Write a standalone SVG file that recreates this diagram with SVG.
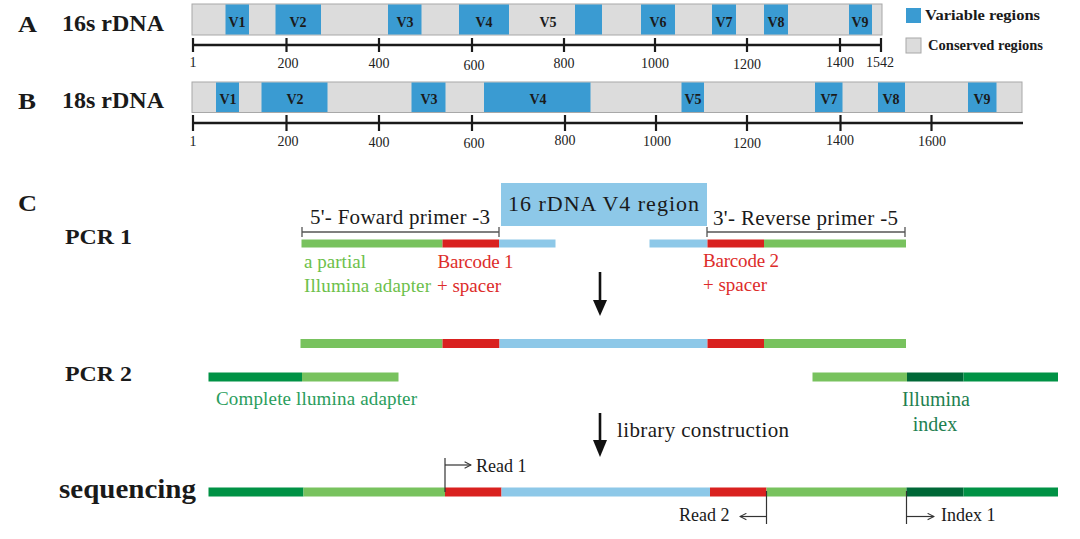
<svg xmlns="http://www.w3.org/2000/svg" width="1080" height="539" viewBox="0 0 1080 539">
<defs>
<style>
.lbl{font-family:"Liberation Serif","Times New Roman",serif;font-weight:bold;fill:#1a1a1a}
.v{font-family:"Liberation Serif",serif;font-weight:bold;font-size:14px;fill:#1a1a1a;text-anchor:middle}
.num{font-family:"Liberation Serif",serif;font-size:14px;fill:#222;text-anchor:middle}
.t{font-family:"Liberation Serif",serif;fill:#1a1a1a}
.cons{fill:#dcdcdc;stroke:#a8a8a8;stroke-width:1}
.var{fill:#3a9bd2}
.axis{stroke:#1a1a1a;stroke-width:2.5;fill:none}
.tick{stroke:#1a1a1a;stroke-width:2.2}
.lb{fill:#8dc8e8}
.lg{fill:#78c25e}
.rd{fill:#d9211f}
.dg{fill:#009245}
.ddg{fill:#006837}
.br{stroke:#555;stroke-width:1.3;fill:none}
.thin{stroke:#333;stroke-width:1.2;fill:none}
</style>
<marker id="open" viewBox="0 0 10 10" refX="9" refY="5" markerWidth="8" markerHeight="8" markerUnits="userSpaceOnUse" orient="auto">
<path d="M1,1 L9,5 L1,9" fill="none" stroke="#333" stroke-width="1.3"/>
</marker>
</defs>
<rect width="1080" height="539" fill="#ffffff"/>

<g id="labels">
<text class="lbl" x="18" y="31.5" font-size="24" textLength="19" lengthAdjust="spacingAndGlyphs">A</text>
<text class="lbl" x="62" y="31" font-size="23" textLength="102" lengthAdjust="spacingAndGlyphs">16s rDNA</text>
<text class="lbl" x="18" y="108.5" font-size="24" textLength="18" lengthAdjust="spacingAndGlyphs">B</text>
<text class="lbl" x="62" y="108" font-size="23" textLength="102" lengthAdjust="spacingAndGlyphs">18s rDNA</text>
<text class="lbl" x="18" y="211" font-size="24" textLength="19" lengthAdjust="spacingAndGlyphs">C</text>
<text class="lbl" x="65" y="244" font-size="21" textLength="67" lengthAdjust="spacingAndGlyphs">PCR 1</text>
<text class="lbl" x="65" y="381" font-size="21" textLength="67" lengthAdjust="spacingAndGlyphs">PCR 2</text>
<text class="lbl" x="59" y="498" font-size="27" textLength="137" lengthAdjust="spacingAndGlyphs">sequencing</text>
</g>

<g id="bar16s">
<rect class="cons" x="192" y="4" width="690" height="31"/>
<rect class="var" x="225.5" y="4.5" width="23.5" height="30"/>
<rect class="var" x="275.5" y="4.5" width="45.5" height="30"/>
<rect class="var" x="388" y="4.5" width="33.5" height="30"/>
<rect class="var" x="459" y="4.5" width="50" height="30"/>
<rect class="var" x="575" y="4.5" width="27" height="30"/>
<rect class="var" x="641" y="4.5" width="34" height="30"/>
<rect class="var" x="712" y="4.5" width="24" height="30"/>
<rect class="var" x="764" y="4.5" width="24" height="30"/>
<rect class="var" x="849" y="4.5" width="23" height="30"/>
<text class="v" x="237" y="27">V1</text>
<text class="v" x="298" y="27">V2</text>
<text class="v" x="405" y="27">V3</text>
<text class="v" x="484" y="27">V4</text>
<text class="v" x="548" y="27">V5</text>
<text class="v" x="658" y="27">V6</text>
<text class="v" x="724" y="27">V7</text>
<text class="v" x="776" y="27">V8</text>
<text class="v" x="860" y="27">V9</text>
<line class="axis" x1="192" y1="45" x2="882" y2="45"/>
<g class="tick">
<line x1="193" y1="38" x2="193" y2="52"/><line x1="286.5" y1="38" x2="286.5" y2="52"/>
<line x1="379" y1="38" x2="379" y2="52"/><line x1="472" y1="38" x2="472" y2="52"/>
<line x1="564" y1="38" x2="564" y2="52"/><line x1="655" y1="38" x2="655" y2="52"/>
<line x1="747" y1="38" x2="747" y2="52"/><line x1="840" y1="38" x2="840" y2="52"/>
<line x1="881" y1="38" x2="881" y2="52"/>
</g>
<text class="num" x="193" y="67">1</text>
<text class="num" x="288" y="68">200</text>
<text class="num" x="379" y="68">400</text>
<text class="num" x="474" y="70">600</text>
<text class="num" x="564" y="68">800</text>
<text class="num" x="655" y="68">1000</text>
<text class="num" x="747" y="69">1200</text>
<text class="num" x="840" y="67">1400</text>
<text class="num" x="880" y="67">1542</text>
</g>

<g id="legend">
<rect class="var" x="906" y="8" width="15" height="15"/>
<text class="lbl" x="925" y="20" font-size="15" textLength="115" lengthAdjust="spacingAndGlyphs">Variable regions</text>
<rect class="cons" x="906" y="38" width="15" height="15"/>
<text class="lbl" x="928" y="50" font-size="15" textLength="115" lengthAdjust="spacingAndGlyphs">Conserved regions</text>
</g>

<g id="bar18s">
<rect class="cons" x="192" y="82" width="830" height="30.5"/>
<rect class="var" x="216" y="82.5" width="23" height="29.5"/>
<rect class="var" x="261.5" y="82.5" width="66" height="29.5"/>
<rect class="var" x="411.5" y="82.5" width="34" height="29.5"/>
<rect class="var" x="484" y="82.5" width="106.5" height="29.5"/>
<rect class="var" x="681.5" y="82.5" width="22.5" height="29.5"/>
<rect class="var" x="815" y="82.5" width="27.5" height="29.5"/>
<rect class="var" x="878" y="82.5" width="27" height="29.5"/>
<rect class="var" x="968" y="82.5" width="28.5" height="29.5"/>
<text class="v" x="228" y="104">V1</text>
<text class="v" x="295" y="104">V2</text>
<text class="v" x="429" y="104">V3</text>
<text class="v" x="538" y="104">V4</text>
<text class="v" x="693" y="104">V5</text>
<text class="v" x="829" y="104">V7</text>
<text class="v" x="891" y="104">V8</text>
<text class="v" x="982" y="104">V9</text>
<line class="axis" x1="192" y1="123" x2="1023" y2="123"/>
<g class="tick">
<line x1="193" y1="115" x2="193" y2="131"/><line x1="286.5" y1="115" x2="286.5" y2="131"/>
<line x1="379" y1="115" x2="379" y2="131"/><line x1="472" y1="115" x2="472" y2="131"/>
<line x1="565" y1="115" x2="565" y2="131"/><line x1="656" y1="115" x2="656" y2="131"/>
<line x1="747" y1="115" x2="747" y2="131"/><line x1="840.5" y1="115" x2="840.5" y2="131"/>
<line x1="931.5" y1="115" x2="931.5" y2="131"/>
</g>
<text class="num" x="193" y="146">1</text>
<text class="num" x="288" y="146">200</text>
<text class="num" x="379" y="147">400</text>
<text class="num" x="474" y="148">600</text>
<text class="num" x="565" y="145">800</text>
<text class="num" x="657" y="146">1000</text>
<text class="num" x="747" y="148">1200</text>
<text class="num" x="840" y="145">1400</text>
<text class="num" x="932" y="146">1600</text>
</g>

<g id="pcr1">
<rect x="501" y="183" width="206" height="43" fill="#8dc8e8"/>
<text class="t" x="508" y="211" font-size="22" textLength="191">16 rDNA V4 region</text>
<text class="t" x="310" y="224" font-size="21" textLength="180">5'- Foward primer -3</text>
<path class="br" d="M302,232 H499 M302,227 V237 M499,227 V237"/>
<text class="t" x="713" y="225" font-size="21" textLength="185">3'- Reverse primer -5</text>
<path class="br" d="M707,232 H905 M707,227 V237 M905,227 V237"/>
<rect class="lg" x="301.5" y="239.5" width="141" height="8"/>
<rect class="rd" x="442.5" y="239.5" width="56.5" height="8"/>
<rect class="lb" x="499" y="239.5" width="56.5" height="8"/>
<rect class="lb" x="649.5" y="239.5" width="58" height="8"/>
<rect class="rd" x="707.5" y="239.5" width="56.5" height="8"/>
<rect class="lg" x="764" y="239.5" width="142" height="8"/>
<text class="t" x="304" y="268" font-size="19" style="fill:#6cc04a" textLength="62">a partial</text>
<text class="t" x="304" y="292" font-size="19" style="fill:#6cc04a" textLength="127">Illumina adapter</text>
<text class="t" x="437.5" y="268" font-size="19" style="fill:#dd2c2a" textLength="76">Barcode 1</text>
<text class="t" x="437" y="292" font-size="19" style="fill:#dd2c2a">+ spacer</text>
<text class="t" x="703" y="267" font-size="19" style="fill:#dd2c2a" textLength="76">Barcode 2</text>
<text class="t" x="703" y="291" font-size="19" style="fill:#dd2c2a">+ spacer</text>
</g>

<g id="pcr1product">
<rect class="lg" x="300.5" y="339" width="142" height="9"/>
<rect class="rd" x="442.5" y="339" width="57" height="9"/>
<rect class="lb" x="499.5" y="339" width="208" height="9"/>
<rect class="rd" x="707.5" y="339" width="56.5" height="9"/>
<rect class="lg" x="764" y="339" width="142" height="9"/>
</g>

<g id="pcr2">
<rect class="dg" x="208.5" y="372.5" width="93.5" height="9"/>
<rect class="lg" x="302" y="372.5" width="96.5" height="9"/>
<text class="t" x="216" y="405" font-size="19" style="fill:#2a9d5c" textLength="201">Complete llumina adapter</text>
<rect class="lg" x="812.5" y="372.5" width="94.5" height="9"/>
<rect class="ddg" x="907" y="372.5" width="56.5" height="9"/>
<rect class="dg" x="963.5" y="372.5" width="94.5" height="9"/>
<text class="t" x="936" y="406" font-size="20" text-anchor="middle" style="fill:#1e8050">Illumina</text>
<text class="t" x="935" y="431" font-size="20" text-anchor="middle" style="fill:#1e8050">index</text>
</g>

<g id="sequencing">
<rect class="dg" x="208.5" y="487.5" width="95" height="9"/>
<rect class="lg" x="303.5" y="487.5" width="141.5" height="9"/>
<rect class="rd" x="445" y="487.5" width="56.5" height="9"/>
<rect class="lb" x="501.5" y="487.5" width="208.5" height="9"/>
<rect class="rd" x="710" y="487.5" width="56.5" height="9"/>
<rect class="lg" x="766.5" y="487.5" width="140" height="9"/>
<rect class="ddg" x="906.5" y="487.5" width="57" height="9"/>
<rect class="dg" x="963.5" y="487.5" width="94.5" height="9"/>
<text class="t" x="476" y="472" font-size="18">Read 1</text>
<text class="t" x="679" y="521" font-size="18">Read 2</text>
<text class="t" x="941" y="521" font-size="18">Index 1</text>
</g>

<g id="connectors">
<line x1="600" y1="272" x2="600" y2="302" stroke="#111" stroke-width="2.6"/>
<path d="M593,300 L607,300 L600,316 Z" fill="#111"/>
<line x1="600" y1="413" x2="600" y2="442" stroke="#111" stroke-width="2.6"/>
<path d="M593,440 L607,440 L600,457 Z" fill="#111"/>
<text class="t" x="617" y="437" font-size="21" textLength="172">library construction</text>
<line class="thin" x1="445" y1="458" x2="445" y2="492"/>
<line class="thin" x1="445" y1="465" x2="471" y2="465" marker-end="url(#open)"/>
<line class="thin" x1="766.5" y1="491" x2="766.5" y2="524"/>
<line class="thin" x1="766.5" y1="516.5" x2="740" y2="516.5" marker-end="url(#open)"/>
<line class="thin" x1="906.5" y1="491" x2="906.5" y2="524"/>
<line class="thin" x1="906.5" y1="516.5" x2="934" y2="516.5" marker-end="url(#open)"/>
</g>
</svg>
